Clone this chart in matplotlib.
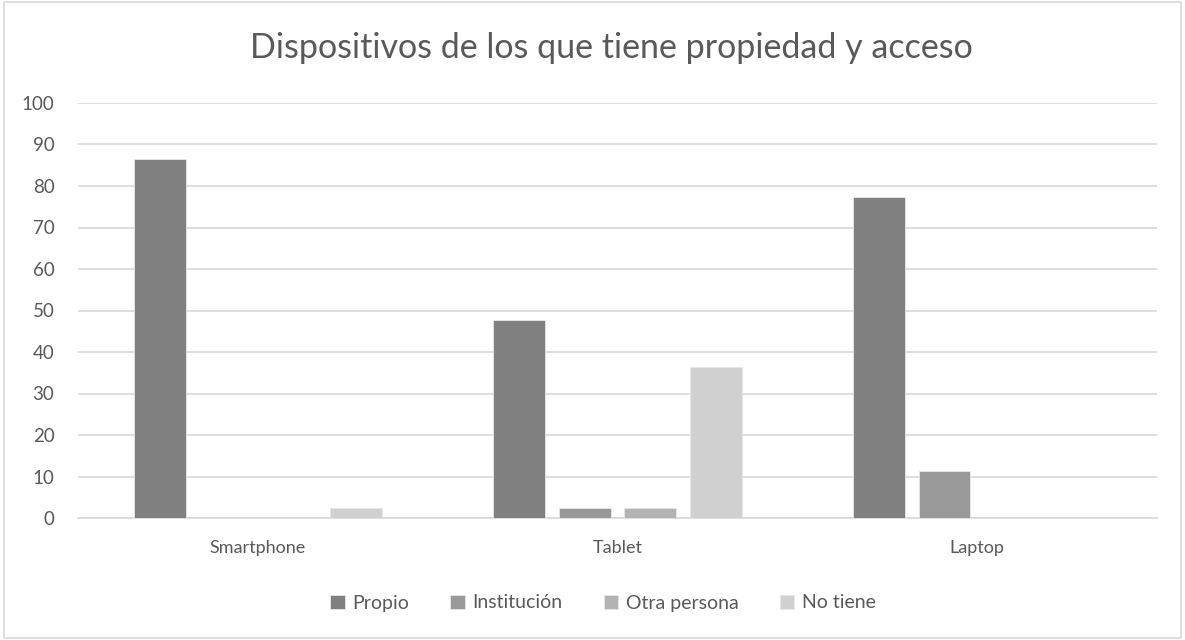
import matplotlib.pyplot as plt
import matplotlib as mpl
import numpy as np
from matplotlib.patches import Rectangle

# Data
categories = ['Smartphone', 'Tablet', 'Laptop']
series_names = ['Propio', 'Institución', 'Otra persona', 'No tiene']
propio = [86.4, 47.7, 77.3]
institucion = [0, 2.3, 11.4]
otra_persona = [0, 2.4, 0]
no_tiene = [2.3, 36.4, 0]
y_ticks = [0, 10, 20, 30, 40, 50, 60, 70, 80, 90, 100]

colors = ['#808080', '#999999', '#b3b3b3', '#d0d0d0']
text_color = '#595959'
grid_color = '#d9d9d9'

mpl.rcParams['font.family'] = ['Lato', 'DejaVu Sans']

fig = plt.figure(figsize=(11.85, 6.4), dpi=100)
ax = fig.add_axes([78 / 1185, 1 - 518 / 640, (1157 - 78) / 1185, (518 - 103) / 640])

x = np.arange(len(categories))
width = 0.144
step = 0.182
all_series = [propio, institucion, otra_persona, no_tiene]
for i, (name, vals) in enumerate(zip(series_names, all_series)):
    ax.bar(x + (i - 1.5) * step, vals, width, color=colors[i], label=name,
           edgecolor='#e8e8e8', linewidth=0.6, zorder=3)

ax.set_xlim(-0.5, 2.5)
ax.set_ylim(0, 100)
ax.set_yticks(y_ticks)
ax.set_xticks(x)
ax.set_xticklabels(categories)
ax.tick_params(axis='both', length=0, colors=text_color)
ax.tick_params(axis='x', pad=16, labelsize=13)
ax.tick_params(axis='y', pad=17, labelsize=13.5)
ax.grid(axis='y', color=grid_color, linewidth=1.2, zorder=0)
for side in ['top', 'right', 'left']:
    ax.spines[side].set_visible(False)
ax.spines['bottom'].set_color(grid_color)
ax.spines['bottom'].set_linewidth(1.2)

fig.text(611 / 1185, 1 - 48 / 640, 'Dispositivos de los que tiene propiedad y acceso',
         ha='center', va='center', fontsize=24.5, color=text_color)

leg = fig.legend(loc='center', bbox_to_anchor=(603 / 1185, 1 - 603 / 640), ncol=4,
                 frameon=False, fontsize=14, handlelength=0.75, handleheight=0.75,
                 handletextpad=0.4, columnspacing=2.1)
for t in leg.get_texts():
    t.set_color(text_color)

# chart area border
fig.patches.append(Rectangle((0.003, 0.003), 0.994, 0.994, transform=fig.transFigure,
                             fill=False, edgecolor=grid_color, linewidth=1.2))

plt.savefig('out.png')
